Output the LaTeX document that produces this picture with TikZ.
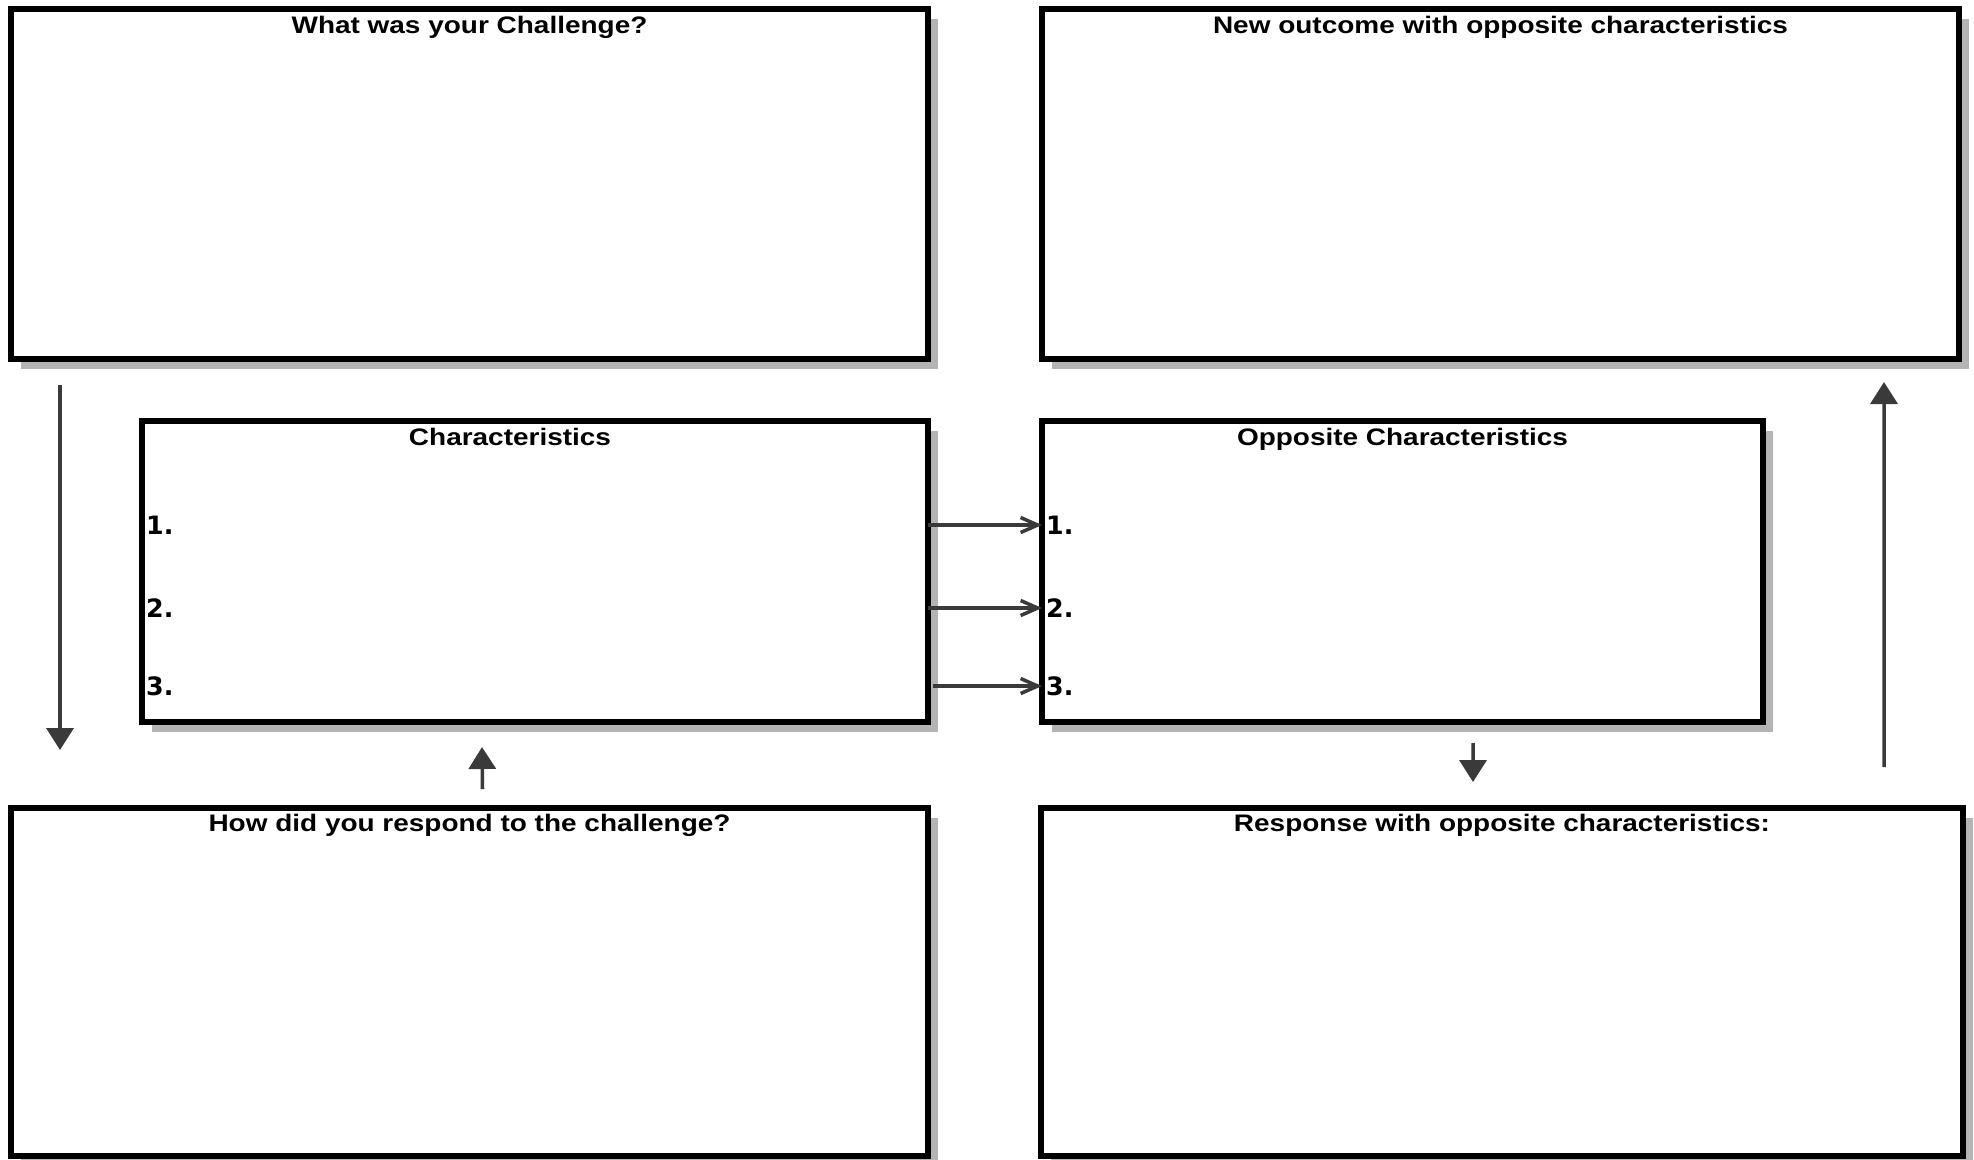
\documentclass[tikz,border=0pt]{standalone}
\usepackage{fontspec}
\usepackage{tikz}
\usetikzlibrary{positioning, arrows.meta, calc, shadows}
\usepackage{xcolor}
\newfontfamily\titlefont[FakeStretch=1.17]{Liberation Sans}
\newfontfamily\numfont{DejaVu Sans}
\definecolor{cardline}{HTML}{000000}
\definecolor{cardshadow}{HTML}{B4B4B4}
\definecolor{arrowgray}{HTML}{3A3A3A}

\tikzset{
  card/.style={draw=cardline, line width=1.6pt, fill=white, inner sep=0pt, outer sep=0pt,
               drop shadow={shadow xshift=1mm, shadow yshift=-1mm, fill=cardshadow, opacity=1}},
  cardtitle/.style={font=\titlefont\bfseries\fontsize{6.8}{8}\selectfont, anchor=base, inner sep=0pt},
  itemnum/.style={font=\numfont\bfseries\fontsize{7.2}{8}\selectfont, anchor=west, inner sep=0pt},
  flowarrow/.style={-{Triangle[width=2.7mm,length=2.2mm]}, line width=1pt, color=arrowgray},
  linkarrow/.style={-{Straight Barb[length=1.7mm,width=1.5mm]}, line width=1pt, color=arrowgray}
}

\begin{document}
\begin{tikzpicture}
    \useasboundingbox (0,0) rectangle (19.74,-11.59);

    % the six cards
    \node[card, minimum width=9.17cm, minimum height=3.50cm] (chal) at (4.695,-1.84) {};
    \node[card, minimum width=9.17cm, minimum height=3.50cm] (newout) at (15.005,-1.84) {};
    \node[card, minimum width=7.86cm, minimum height=3.01cm] (char) at (5.35,-5.715) {};
    \node[card, minimum width=7.21cm, minimum height=3.01cm] (opp) at (14.025,-5.715) {};
    \node[card, minimum width=9.17cm, minimum height=3.48cm] (resp) at (4.695,-9.82) {};
    \node[card, minimum width=9.22cm, minimum height=3.48cm] (newresp) at (15.02,-9.82) {};

    \node[cardtitle] (chal-t) at ([yshift=-2.4mm]chal.north) {What was your Challenge?};
    \node[cardtitle] (newout-t) at ([yshift=-2.4mm]newout.north) {New outcome with opposite characteristics};
    \node[cardtitle] (char-t) at ([xshift=-2.5mm, yshift=-2.4mm]char.north) {Characteristics};
    \node[cardtitle] (opp-t) at ([yshift=-2.4mm]opp.north) {Opposite Characteristics};
    \node[cardtitle] (resp-t) at ([yshift=-2.3mm]resp.north) {How did you respond to the challenge?};
    \node[cardtitle] (newresp-t) at ([yshift=-2.3mm]newresp.north) {Response with opposite characteristics:};

    % numbered lines
    \node[itemnum] (c1) at (1.455,-5.25) {1.};
    \node[itemnum] (c2) at (1.455,-6.08) {2.};
    \node[itemnum] (c3) at (1.455,-6.86) {3.};
    \node[itemnum] (o1) at (10.455,-5.25) {1.};
    \node[itemnum] (o2) at (10.455,-6.08) {2.};
    \node[itemnum] (o3) at (10.455,-6.86) {3.};

    \draw[linkarrow] (char.east |- o1.west) -- (opp.west |- o1.west);
    \draw[linkarrow] (char.east |- o2.west) -- (opp.west |- o2.west);
    \draw[linkarrow] ([xshift=0.5mm]char.east |- o3.west) -- (opp.west |- o3.west);

    % flow round the cards
    \draw[flowarrow] ([xshift=4.9mm, yshift=-2.6mm]chal.south west) -- ([xshift=4.9mm, yshift=5.8mm]resp.north west);
    \draw[flowarrow] ([xshift=1.3mm, yshift=1.9mm]resp.north) -- ([xshift=-5.3mm, yshift=-2.5mm]char.south);
    \draw[flowarrow] ([xshift=7.05mm, yshift=-2.1mm]opp.south) -- ([xshift=-2.9mm, yshift=2.6mm]newresp.north);
    \draw[flowarrow] ([xshift=-7.9mm, yshift=4.1mm]newresp.north east) -- ([xshift=-7.5mm, yshift=-2.3mm]newout.south east);
  \end{tikzpicture}
\end{document}
